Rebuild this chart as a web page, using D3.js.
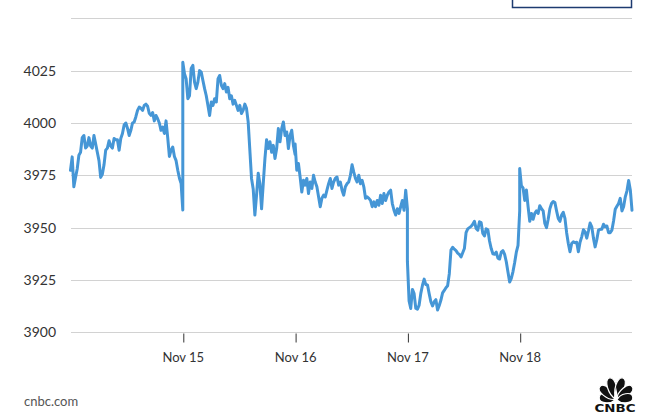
<!DOCTYPE html>
<html>
<head>
<meta charset="utf-8">
<script src="https://cdn.jsdelivr.net/npm/d3@7"></script>
<style>
  html, body { margin: 0; padding: 0; background: #fff; }
  svg { display: block; }
</style>
</head>
<body>
<svg id="chart" width="656" height="416"></svg>
<script>
// ---- data ----
const dayStarts = ["2022-11-14", "2022-11-15", "2022-11-16", "2022-11-17", "2022-11-18"];
const nov14 = [3977.4,3983.8,3969.5,3974,3978,3984.6,3986,3993,3994,3988,3989,3993,3989,3988,3994,3990,3986,3982,3974,3975.5,3980,3987,3988,3991.5,3989,3988,3992.6,3992,3992,3987,3992.6,3995,3999,4000,3997.5,3994,3996.5,4000,4000.5,4003,4006,4007.6,4007,4006,4008.4,4009,4008,4004.6,4003.6,4005,4001,4003.6,4002,4000,3996.5,3998,3995,4001,3993,3984,3987,3988.5,3984,3982,3977.4,3973.6,3971,3958.4];
const nov15 = [4029,4023.5,4021,4011.6,4013,4026,4027.5,4019.5,4016.4,4019.5,4025,4024.3,4020.3,4016.4,4013,4008.4,4003.6,4010,4008.4,4011.6,4010,4021,4022.7,4018,4016.4,4018.8,4014.8,4017,4011.6,4013,4009,4010.8,4008.4,4006,4008.4,4004.5,4006,4009,4007,4000.5,3987,3973.5,3968.5,3956,3965.5,3976,3971,3959,3971,3983,3992,3987.8,3991,3986,3989.3,3983,3987.8,3997.3,3991,3997.3,4000.5,3994,3995.7,3987.8,3994,3996.5,3989.3,3985];
const nov16 = [3990,3977.4,3980.6,3974.2,3967,3972.6,3970.3,3973.5,3966.3,3971.8,3968.7,3975,3971.8,3969.5,3964.7,3960,3964,3965.5,3964.7,3967.9,3971,3973.5,3968.7,3971.8,3973.5,3974.2,3970.3,3971.8,3967.9,3965.5,3969.5,3971,3971.8,3975,3980,3976.5,3973.5,3971.8,3975,3971,3972.6,3969.5,3964,3964.7,3964,3963,3960,3962.3,3960,3963,3960.7,3965.5,3961.5,3966.3,3963,3965.5,3967,3967.9,3961.5,3958.3,3956,3959,3956.8,3960,3963,3958.3,3967.9,3959];
const nov17 = [3934,3915,3911.4,3920.5,3918.5,3911.5,3911,3913,3918.6,3922.5,3925.4,3922.8,3922.6,3918.4,3914.6,3912.6,3914.6,3915.6,3910.6,3912.8,3915.4,3918.8,3920,3921.3,3922.2,3928,3939.3,3940.6,3939.7,3939,3937.8,3937.2,3936,3938,3940,3947.6,3949.4,3950,3950.6,3951.6,3953,3949.6,3948.8,3952.8,3952.4,3947.2,3946,3949.4,3949,3943.6,3940,3937.5,3937.3,3938.3,3935.4,3935,3938.3,3939,3937.2,3933.7,3928.8,3924,3925.8,3929,3933.3,3938.3,3941.5,3958];
const nov18 = [3978.2,3970,3969,3963,3968,3960,3953,3956.8,3954,3956.8,3958,3956.8,3960.5,3959,3958,3952,3950,3954,3959,3961.5,3962.5,3962,3958,3954.4,3953,3956,3957.3,3954.4,3947.6,3942.4,3938.5,3942.4,3943.2,3942.8,3943,3938.5,3943,3945.6,3949,3948,3945,3948.4,3952.2,3950.4,3945,3940.8,3944.2,3948.8,3949.2,3949.2,3951.6,3950.4,3950.8,3947.6,3947.6,3948.8,3953.2,3958.8,3960.2,3961.5,3964,3958,3960,3964.7,3967.6,3972.5,3968,3958.3];
const dayValues = [nov14, nov15, nov16, nov17, nov18];
const yTicks = [3900, 3925, 3950, 3975, 4000, 4025];
const yGrid = [3900, 3925, 3950, 3975, 4000, 4025, 4050];
const xTickDays = ["2022-11-15", "2022-11-16", "2022-11-17", "2022-11-18"];

// ---- build points ----
const parse = d3.timeParse("%Y-%m-%d");
const DAY = 24 * 3600 * 1000;
const points = [];
dayValues.forEach((vals, d) => {
  const start = parse(dayStarts[d]).getTime();
  vals.forEach((v, i) => {
    points.push({ t: new Date(start + (i / (vals.length - 1)) * DAY), v });
  });
});

// ---- scales ----
const svg = d3.select("#chart");
const x = d3.scaleTime()
  .domain([parse("2022-11-14"), parse("2022-11-19")])
  .range([70.5, 632]);
const y = d3.scaleLinear().domain([3900, 4050]).range([332.3, 18.3]);

// top-right button box (clipped)
svg.append("rect")
  .attr("x", 512.5).attr("y", -3).attr("width", 119).attr("height", 10.5)
  .attr("fill", "#fff").attr("stroke", "#1d3b70").attr("stroke-width", 1.5);

// gridlines
svg.append("g").selectAll("line").data(yGrid).join("line")
  .attr("x1", 71).attr("x2", 632)
  .attr("y1", d => Math.round(y(d)) + 0.5).attr("y2", d => Math.round(y(d)) + 0.5)
  .attr("stroke", "#d2d2d2").attr("stroke-width", 1);

// y labels
const yAxis = svg.append("g").attr("transform", "translate(56,0)")
  .call(d3.axisLeft(y).tickValues(yTicks).tickSize(0).tickPadding(0).tickFormat(d3.format("d")));
yAxis.select(".domain").remove();
yAxis.selectAll("text")
  .attr("font-family", "Lato, 'Open Sans', sans-serif").attr("font-size", 14)
  .attr("fill", "#333");

// x axis
const xAxis = svg.append("g").attr("transform", "translate(0,333.5)")
  .call(d3.axisBottom(x).tickValues(xTickDays.map(parse)).tickSize(9).tickPadding(10)
    .tickFormat(d3.timeFormat("%b %-d")));
xAxis.select(".domain").remove();
xAxis.selectAll("line").attr("stroke", "#333").attr("transform", "translate(0.5,0)");
xAxis.selectAll("text")
  .attr("font-family", "Lato, 'Open Sans', sans-serif").attr("font-size", 13)
  .attr("fill", "#333");

// line
const line = d3.line().x(d => x(d.t)).y(d => y(d.v));
svg.append("path").datum(points)
  .attr("d", line)
  .attr("fill", "none").attr("stroke", "#4596d6").attr("stroke-width", 3)
  .attr("stroke-linejoin", "round").attr("stroke-linecap", "round");

// footer
svg.append("text").attr("x", 24).attr("y", 406)
  .attr("font-family", "Lato, 'Open Sans', sans-serif").attr("font-size", 13)
  .attr("fill", "#555").text("cnbc.com");

// CNBC peacock logo
const logo = svg.append("g").attr("transform", "translate(616,400)");
const angles = [-80, -50, -17, 17, 50, 80];
const lens = [17, 21, 23, 23, 21, 17];
angles.forEach((a, i) => {
  const L = lens[i], w = 6;
  logo.append("path")
    .attr("d", `M0,-1 C${-w},${-L*0.3} ${-w},${-L} 0,${-L} C${w},${-L} ${w},${-L*0.3} 0,-1 Z`)
    .attr("transform", `rotate(${a})`)
    .attr("fill", "#111").attr("stroke", "#fff").attr("stroke-width", 1.2);
});
logo.append("path").attr("d", "M-2.4,-1 L0,-13 L2.4,-1 Z").attr("fill", "#fff");
svg.append("text").attr("x", 615).attr("y", 412)
  .attr("text-anchor", "middle")
  .attr("font-family", "'DejaVu Sans', sans-serif").attr("font-weight", 900)
  .attr("font-size", 11).attr("textLength", 41).attr("lengthAdjust", "spacingAndGlyphs")
  .attr("fill", "#111").text("CNBC");
</script>
</body>
</html>
